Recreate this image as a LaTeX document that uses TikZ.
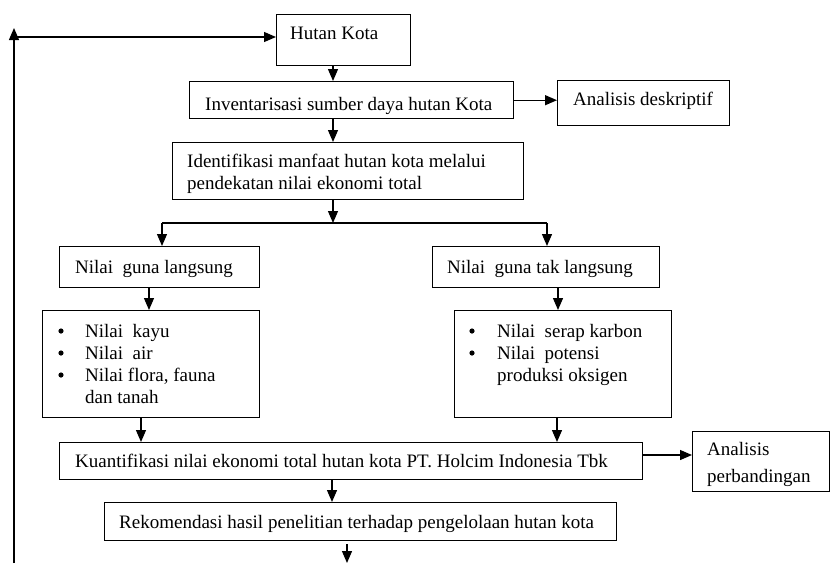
\documentclass[tikz,border=0pt]{standalone}
\usepackage{fontspec}
\setmainfont{Liberation Serif}
\usetikzlibrary{arrows.meta,calc}
\begin{document}
\begin{tikzpicture}[x=1pt,y=-1pt,
  box/.style={draw, line width=1.4pt, rectangle, anchor=north west, inner sep=0pt},
  txt/.style={anchor=base west, inner sep=0pt, font=\fontsize{19}{22}\selectfont},
  arr/.style={line width=1.3pt, -{Triangle[length=12pt,width=10pt]}},
  ln/.style={line width=1.3pt},
  dot/.style={fill=black}]
\useasboundingbox (0,0) rectangle (831,563);
% boxes
\node[box, minimum width=134pt, minimum height=51pt] (hk) at (276,14) {};
\node[box, minimum width=324pt, minimum height=37pt] (inv) at (189,81) {};
\node[box, minimum width=172pt, minimum height=45pt] (ad) at (557,80) {};
\node[box, minimum width=351pt, minimum height=57pt] (id) at (172,142) {};
\node[box, minimum width=200pt, minimum height=41pt] (ngl) at (59,246) {};
\node[box, minimum width=227pt, minimum height=41pt] (ngtl) at (432,246) {};
\node[box, minimum width=217pt, minimum height=107pt] (l1) at (42,310) {};
\node[box, minimum width=217pt, minimum height=107pt] (l2) at (454,310) {};
\node[box, minimum width=583pt, minimum height=37pt] (kq) at (59,442) {};
\node[box, minimum width=137pt, minimum height=60pt] (ap) at (692,431) {};
\node[box, minimum width=512pt, minimum height=38pt] (rk) at (104,502) {};
% texts
\node[txt] (hkt) at (290,39) {Hutan Kota};
\node[txt] (invt) at (205,110) {Inventarisasi sumber daya hutan Kota};
\node[txt] (adt) at (573,105) {Analisis deskriptif};
\node[txt] (idt) at (187,167) {\begin{tabular}[t]{@{}l@{}}Identifikasi manfaat hutan kota melalui\\ pendekatan nilai ekonomi total\end{tabular}};
\node[txt] (nglt) at (75,273) {Nilai\ \ guna langsung};
\node[txt] (ngtlt) at (447,273) {Nilai\ \ guna tak langsung};
\node[txt] (l1t) at (85,337) {\begin{tabular}[t]{@{}l@{}}Nilai\ \ kayu\\ Nilai\ \ air\\ Nilai flora, fauna\\ dan tanah\end{tabular}};
\node[txt] (l2t) at (497,337) {\begin{tabular}[t]{@{}l@{}}Nilai\ \ serap karbon\\ Nilai\ \ potensi\\ produksi oksigen\end{tabular}};
\node[txt] (kqt) at (75,467) {Kuantifikasi nilai ekonomi total hutan kota PT. Holcim Indonesia Tbk};
\node[txt] (apt) at (707,455) {\begin{tabular}[t]{@{}l@{}}Analisis\\[5pt] perbandingan\end{tabular}};
\node[txt] (rkt) at (119,528) {Rekomendasi hasil penelitian terhadap pengelolaan hutan kota};
% bullets
\fill[dot] (61,331) circle (2.6);
\fill[dot] (61,353) circle (2.6);
\fill[dot] (61,375) circle (2.6);
\fill[dot] (472,331) circle (2.6);
\fill[dot] (472,353) circle (2.6);
% helper coordinates
\coordinate (ax) at (333,0);
\coordinate (sp) at (333,223);
\coordinate (sL) at (162,223);
\coordinate (sR) at (547,223);
\coordinate (x1) at (149,0);
\coordinate (x2) at (558,0);
\coordinate (x3) at (141,0);
\coordinate (x4) at (557,0);
\coordinate (y5) at (0,455);
\coordinate (x6) at (332,0);
\coordinate (endp) at (347,563);
\coordinate (fb0) at (14,563);
\coordinate (fb1) at (14,28);
\coordinate (fb2) at (14,37);
% connectors
\draw[arr] (hk.south -| ax) -- (inv.north -| ax);
\draw[arr] (inv.east) -- (inv.east -| ad.west);
\draw[arr] (inv.south -| ax) -- (id.north -| ax);
\draw[arr] (id.south -| ax) -- (sp);
\draw[ln] (sL) -- (sR);
\draw[arr] (sL) -- (sL |- ngl.north);
\draw[arr] (sR) -- (sR |- ngtl.north);
\draw[arr] (ngl.south -| x1) -- (l1.north -| x1);
\draw[arr] (ngtl.south -| x2) -- (l2.north -| x2);
\draw[arr] (l1.south -| x3) -- (kq.north -| x3);
\draw[arr] (l2.south -| x4) -- (kq.north -| x4);
\draw[arr] (kq.east |- y5) -- (ap.west |- y5);
\draw[arr] (kq.south -| x6) -- (rk.north -| x6);
\draw[arr] ([yshift=-3pt]rk.south -| endp) -- (endp);
\draw[arr] (fb0) -- (fb1);
\draw[arr] (fb2) -- (fb2 -| hk.west);
\end{tikzpicture}
\end{document}
